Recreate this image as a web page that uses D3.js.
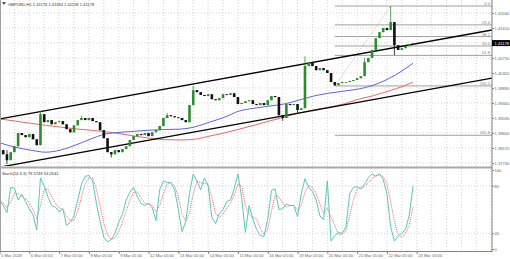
<!DOCTYPE html>
<html>
<head>
<meta charset="utf-8">
<title>GBPUSD H1</title>
<script src="https://d3js.org/d3.v7.min.js"></script>
<style>
  body { margin: 0; background: #fff; }
  text { font-family: "Liberation Sans", Arial, sans-serif; }
</style>
</head>
<body>
<svg width="510" height="259"></svg>
<script>
// hours are trading hours counted from 5 Mar 00:00, bars are 3 hours apart
const barStart = 5, barStep = 3;

const closes = [
  1.3811, 1.3799, 1.3782, 1.3805, 1.3822, 1.3860, 1.3854, 1.3848, 1.3857, 1.3842,
  1.3825, 1.3914, 1.3891, 1.3897, 1.3885, 1.3891, 1.3894, 1.3885, 1.3871, 1.3862,
  1.3882, 1.3897, 1.3903, 1.3897, 1.3903, 1.3894, 1.3891, 1.3868, 1.3845, 1.3805,
  1.3799, 1.3811, 1.3805, 1.3814, 1.3822, 1.3840, 1.3851, 1.3857, 1.3854, 1.3860,
  1.3851, 1.3862, 1.3868, 1.3880, 1.3903, 1.3911, 1.3908, 1.3905, 1.3903, 1.3897,
  1.3891, 1.3940, 1.3983, 1.3977, 1.3969, 1.3966, 1.3971, 1.3957, 1.3954, 1.3960,
  1.3971, 1.3969, 1.3974, 1.3963, 1.3943, 1.3946, 1.3951, 1.3954, 1.3943, 1.3940,
  1.3946, 1.3940, 1.3954, 1.3966, 1.3963, 1.3911, 1.3903, 1.3943, 1.3940, 1.3943,
  1.3926, 1.3931, 1.4052, 1.4063, 1.4052, 1.4040, 1.4046, 1.4040, 1.4032, 1.4006,
  1.3997, 1.4003, 1.4006, 1.4006, 1.4009, 1.4012, 1.4017, 1.4023, 1.4063, 1.4075,
  1.4098, 1.4132, 1.4149, 1.4161, 1.4155, 1.4178, 1.4112, 1.4098, 1.4103, 1.4109,
  1.4115, 1.41178
];
// [bar index, price] extremes that stick out of the bodies
const spikeHighs = [[2, 1.3811], [11, 1.3924], [22, 1.3909], [45, 1.3917], [52, 1.3995], [82, 1.4080], [98, 1.4075], [105, 1.4224]];
const spikeLows = [[2, 1.3771], [30, 1.3790], [76, 1.3895], [80, 1.3917], [90, 1.3995], [106, 1.4083]];

const maHours = [6, 18, 30, 42, 54, 66, 78, 90, 102, 114, 126, 138, 150, 162, 174, 186, 198, 210, 222, 234, 246, 258, 270, 282, 294, 306, 318, 330, 338];
const maBlue = [1.3831, 1.3819, 1.3811, 1.3805, 1.3811, 1.3825, 1.3842, 1.3857, 1.3862, 1.3865,
  1.3868, 1.3870, 1.3871, 1.3877, 1.3891, 1.3905, 1.3923, 1.3931, 1.3937, 1.3943,
  1.3954, 1.3966, 1.3974, 1.3980, 1.3986, 1.3997, 1.4015, 1.4040, 1.4060];
const maRed = [1.3900, 1.3894, 1.3888, 1.3882, 1.3877, 1.3872, 1.3868, 1.3864, 1.3858, 1.3851,
  1.3845, 1.3841, 1.3840, 1.3842, 1.3851, 1.3860, 1.3871, 1.3882, 1.3894, 1.3905,
  1.3917, 1.3926, 1.3934, 1.3943, 1.3957, 1.3967, 1.3980, 1.3994, 1.4006];

const stochMain = [
  64, 55, 46, 78, 77, 62, 69, 60, 51, 43, 24, 90, 80, 66, 55, 53, 47, 51, 30, 34,
  42, 62, 82, 92, 93, 86, 58, 35, 15, 9, 12, 20, 34, 44, 62, 72, 78, 66, 58, 55,
  58, 52, 36, 75, 86, 84, 84, 75, 50, 22, 35, 70, 95, 86, 75, 90, 80, 40, 32, 45,
  50, 60, 62, 76, 95, 65, 21, 55, 38, 25, 17, 16, 38, 74, 76, 50, 51, 57, 55, 55,
  41, 70, 89, 78, 73, 62, 42, 37, 86, 10, 17, 21, 20, 28, 70, 78, 79, 76, 82, 90,
  95, 92, 95, 88, 70, 28, 10, 16, 20, 25, 43, 79.57
];
const stochSignal = [
  60, 58, 52, 60, 70, 70, 67, 64, 58, 50, 38, 55, 75, 76, 66, 58, 52, 50, 42, 36,
  36, 48, 66, 82, 90, 90, 76, 55, 33, 18, 12, 14, 22, 34, 48, 62, 72, 72, 65, 58,
  57, 55, 47, 55, 70, 82, 84, 80, 66, 44, 35, 45, 70, 86, 84, 83, 82, 65, 45, 40,
  44, 52, 58, 68, 82, 80, 55, 44, 40, 38, 26, 19, 25, 48, 68, 66, 58, 53, 55, 55,
  49, 55, 72, 80, 78, 70, 57, 45, 52, 40, 30, 18, 19, 23, 42, 62, 76, 78, 79, 84,
  89, 93, 94, 92, 82, 60, 35, 18, 15, 20, 30, 53.26
];

const priceTicks = [1.42040, 1.41610, 1.41180, 1.40750, 1.40320, 1.39890, 1.39460, 1.39030, 1.38600, 1.38170, 1.37740];
const stochTicks = [100, 80, 20, 0];
const dayLabels = ["5 Mar 2018", "6 Mar 05:00", "7 Mar 05:00", "8 Mar 05:00", "9 Mar 05:00", "12 Mar 05:00", "13 Mar 05:00",
  "14 Mar 05:00", "15 Mar 05:00", "16 Mar 05:00", "19 Mar 05:00", "20 Mar 05:00", "21 Mar 05:00", "22 Mar 05:00", "23 Mar 05:00"];
const dayHours = [5, 29, 53, 77, 101, 125, 149, 173, 197, 221, 245, 269, 293, 317, 341];

const fibLevels = ["0.0", "23.6", "38.2", "50.0", "61.8", "100.0", "161.8"];
const fibHigh = 1.4224, fibLow = 1.3995;
const fibHighHour = 320, fibLowHour = 275;
const upperChannel = [[5, 1.3900], [401, 1.4155]];
const lowerChannel = [[5, 1.3762], [401, 1.4017]];

const lastPrice = 1.41178;
const titleText = "GBPUSD,H1  1.41176 1.41184 1.41158 1.41178";
const stochText = "Stoch(14,3,3) 79.5749 53.2641";

// layout
const W = 510, H = 259;
const plotRight = 492;
const mainTop = 0, mainBottom = 166;
const stTop = 170, stBottom = 249;

const svg = d3.select("svg");

const x = d3.scaleLinear().domain([5.4, 401.6]).range([0, plotRight]);
const y = d3.scaleLinear().domain([1.37654, 1.42413]).range([mainBottom, mainTop]);
const ys = d3.scaleLinear().domain([0, 100]).range([stBottom, stTop]);

const fontSize = 4.1;
const gridColor = "#c8c8c8";
const axisText = "#666";

// clip paths for the two panels
const defs = svg.append("defs");
defs.append("clipPath").attr("id", "clipMain")
  .append("rect").attr("x", 0).attr("y", mainTop).attr("width", plotRight).attr("height", mainBottom - mainTop);
defs.append("clipPath").attr("id", "clipSt")
  .append("rect").attr("x", 0).attr("y", stTop - 2).attr("width", plotRight).attr("height", stBottom - stTop + 4);

// vertical grid every 12 hours
const gridHours = d3.range(17, 402, 12);
svg.append("g").selectAll("line")
  .data(gridHours)
  .enter().append("line")
    .attr("x1", d => x(d)).attr("x2", d => x(d))
    .attr("y1", 0).attr("y2", 252)
    .attr("stroke", gridColor).attr("stroke-width", 0.8)
    .attr("stroke-dasharray", "1,2");

// horizontal grid in price panel
svg.append("g").selectAll("line")
  .data(priceTicks)
  .enter().append("line")
    .attr("x1", 0).attr("x2", plotRight)
    .attr("y1", d => y(d)).attr("y2", d => y(d))
    .attr("stroke", gridColor).attr("stroke-width", 0.8)
    .attr("stroke-dasharray", "1,2");

// horizontal grid in stochastic panel
svg.append("g").selectAll("line")
  .data([80, 20])
  .enter().append("line")
    .attr("x1", 0).attr("x2", plotRight)
    .attr("y1", d => ys(d)).attr("y2", d => ys(d))
    .attr("stroke", gridColor).attr("stroke-width", 0.8)
    .attr("stroke-dasharray", "1,2");

const main = svg.append("g").attr("clip-path", "url(#clipMain)");

// fibonacci levels
const fibG = main.append("g");
const fibX0 = x(fibLowHour);
fibLevels.forEach(lv => {
  const p = fibHigh - (fibHigh - fibLow) * (+lv) / 100;
  fibG.append("line")
    .attr("x1", fibX0).attr("x2", plotRight)
    .attr("y1", y(p)).attr("y2", y(p))
    .attr("stroke", "#a0a0a0").attr("stroke-width", 1);
  fibG.append("text")
    .attr("x", plotRight - 2).attr("y", y(p) - 1)
    .attr("text-anchor", "end")
    .attr("font-size", fontSize).attr("fill", "#808080")
    .text(lv);
});
fibG.append("line")
  .attr("x1", x(fibLowHour)).attr("y1", y(fibLow))
  .attr("x2", x(fibHighHour)).attr("y2", y(fibHigh))
  .attr("stroke", "#a0a0a0").attr("stroke-width", 0.8)
  .attr("stroke-dasharray", "1,1.5");

// moving averages
const maLine = d3.line()
  .x((d, i) => x(maHours[i]))
  .y(d => y(d))
  .curve(d3.curveMonotoneX);
main.append("path").datum(maRed)
  .attr("d", maLine).attr("fill", "none")
  .attr("stroke", "#e06a6a").attr("stroke-width", 1);
main.append("path").datum(maBlue)
  .attr("d", maLine).attr("fill", "none")
  .attr("stroke", "#6262d8").attr("stroke-width", 1);

// channel lines, extended across the panel
function channel(pts) {
  const [[h0, p0], [h1, p1]] = pts;
  const slope = (p1 - p0) / (h1 - h0);
  const hA = x.invert(0), hB = x.invert(plotRight);
  main.append("line")
    .attr("x1", x(hA)).attr("y1", y(p0 + slope * (hA - h0)))
    .attr("x2", x(hB)).attr("y2", y(p0 + slope * (hB - h0)))
    .attr("stroke", "#000").attr("stroke-width", 1.3);
}
channel(upperChannel);
channel(lowerChannel);

// candles
const hiMap = new Map(spikeHighs), loMap = new Map(spikeLows);
const bars = closes.map((c, i) => {
  const o = i > 0 ? closes[i - 1] : c;
  let hi = Math.max(o, c), lo = Math.min(o, c);
  if (hiMap.has(i)) hi = Math.max(hi, hiMap.get(i));
  if (loMap.has(i)) lo = Math.min(lo, loMap.get(i));
  return { h: barStart + i * barStep, o, c, hi, lo };
});
const bw = 2.6;
const candle = main.append("g").selectAll("g")
  .data(bars)
  .enter().append("g");
candle.append("line")
  .attr("x1", d => x(d.h)).attr("x2", d => x(d.h))
  .attr("y1", d => y(d.hi)).attr("y2", d => y(d.lo))
  .attr("stroke", d => d.c >= d.o ? "#2e8b2e" : "#111")
  .attr("stroke-width", 0.8);
candle.append("rect")
  .attr("x", d => x(d.h) - bw / 2)
  .attr("width", bw)
  .attr("y", d => y(Math.max(d.o, d.c)))
  .attr("height", d => Math.max(0.8, Math.abs(y(d.o) - y(d.c))))
  .attr("fill", d => d.c >= d.o ? "#2e8b2e" : "#111");

// stochastic lines
const st = svg.append("g").attr("clip-path", "url(#clipSt)");
const stLine = d3.line()
  .x((d, i) => x(barStart + i * barStep))
  .y(d => ys(d));
st.append("path").datum(stochSignal)
  .attr("d", stLine).attr("fill", "none")
  .attr("stroke", "#e05a5a").attr("stroke-width", 0.9)
  .attr("stroke-dasharray", "1,1");
st.append("path").datum(stochMain)
  .attr("d", stLine).attr("fill", "none")
  .attr("stroke", "#5cc6ba").attr("stroke-width", 1);

// panel separator and frame
svg.append("rect").attr("x", 0).attr("y", 166.5).attr("width", plotRight).attr("height", 2)
  .attr("fill", "#a8a8a8");
svg.append("line").attr("x1", 0.5).attr("x2", 0.5).attr("y1", 0).attr("y2", 252)
  .attr("stroke", "#a0a0a0");
svg.append("line").attr("x1", plotRight).attr("x2", plotRight).attr("y1", 0).attr("y2", 252)
  .attr("stroke", "#808080");
svg.append("line").attr("x1", 0).attr("x2", plotRight).attr("y1", 251.5).attr("y2", 251.5)
  .attr("stroke", "#808080");

// right price axis
const yAxis = svg.append("g")
  .attr("transform", `translate(${plotRight},0)`)
  .call(d3.axisRight(y).tickValues(priceTicks).tickSize(2).tickFormat(d3.format(".5f")));
yAxis.select(".domain").remove();
yAxis.selectAll("line").attr("stroke", "#808080");
yAxis.selectAll("text").attr("font-size", fontSize).attr("fill", axisText).attr("x", 2.5)
  .attr("font-family", "Liberation Sans, Arial, sans-serif");

// last price box
svg.append("rect").attr("x", plotRight).attr("y", y(lastPrice) - 3)
  .attr("width", W - plotRight).attr("height", 6).attr("fill", "#000");
svg.append("text").attr("x", plotRight + 2.5).attr("y", y(lastPrice) + 1.5)
  .attr("font-size", fontSize).attr("fill", "#fff")
  .text(d3.format(".5f")(lastPrice));

// stochastic axis
const sAxis = svg.append("g")
  .attr("transform", `translate(${plotRight},0)`)
  .call(d3.axisRight(ys).tickValues(stochTicks).tickSize(2));
sAxis.select(".domain").remove();
sAxis.selectAll("line").attr("stroke", "#808080");
sAxis.selectAll("text").attr("font-size", fontSize).attr("fill", axisText).attr("x", 2.5)
  .attr("font-family", "Liberation Sans, Arial, sans-serif");

// time axis
const xAxis = svg.append("g")
  .attr("transform", "translate(0,252)")
  .call(d3.axisBottom(x).tickValues(dayHours).tickSize(2).tickFormat((d, i) => dayLabels[i]));
xAxis.select(".domain").remove();
xAxis.selectAll("line").attr("stroke", "#808080");
xAxis.selectAll("text").attr("font-size", fontSize).attr("fill", axisText)
  .attr("text-anchor", "start").attr("dx", 1).attr("y", 2)
  .attr("font-family", "Liberation Sans, Arial, sans-serif");

// titles
svg.append("path").attr("d", "M2,2 L6,2 L4,5 Z").attr("fill", "#555");
svg.append("text").attr("x", 8).attr("y", 5.5)
  .attr("font-size", fontSize).attr("fill", "#333")
  .text(titleText);
svg.append("text").attr("x", 2).attr("y", 175)
  .attr("font-size", fontSize).attr("fill", "#333")
  .text(stochText);
</script>
</body>
</html>
